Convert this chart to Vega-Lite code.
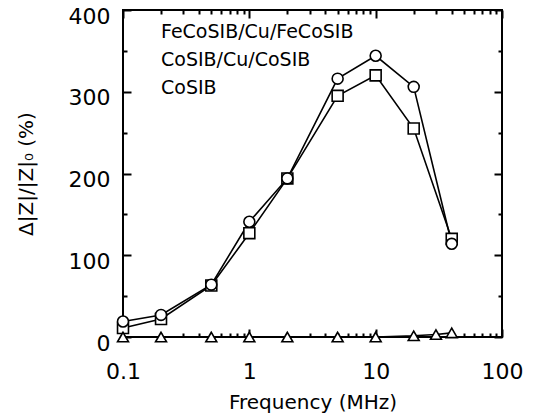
{
  "$schema": "https://vega.github.io/schema/vega-lite/v6.json",
  "width": 379,
  "height": 327,
  "autosize": "none",
  "padding": {"left": 123, "top": 10, "right": 37, "bottom": 81},
  "background": "white",
  "config": {
    "view": {"stroke": "black", "strokeWidth": 2},
    "font": "DejaVu Sans",
    "axis": {
      "grid": false,
      "domain": false,
      "ticks": true,
      "labelFlush": false,
      "labelOverlap": false,
      "tickColor": "#000000",
      "tickWidth": 2,
      "tickOpacity": 1,
      "labelColor": "black",
      "labelFont": "DejaVu Sans",
      "labelFontSize": 22,
      "titleFont": "DejaVu Sans",
      "titleFontSize": 20,
      "titleFontWeight": "normal",
      "titleColor": "black"
    }
  },
  "data": {
    "values": [
      {"series": "FeCoSIB/Cu/FeCoSIB", "f": 0.1, "z": 11},
      {"series": "FeCoSIB/Cu/FeCoSIB", "f": 0.2, "z": 22},
      {"series": "FeCoSIB/Cu/FeCoSIB", "f": 0.5, "z": 63},
      {"series": "FeCoSIB/Cu/FeCoSIB", "f": 1, "z": 127},
      {"series": "FeCoSIB/Cu/FeCoSIB", "f": 2, "z": 194},
      {"series": "FeCoSIB/Cu/FeCoSIB", "f": 5, "z": 295},
      {"series": "FeCoSIB/Cu/FeCoSIB", "f": 10, "z": 320},
      {"series": "FeCoSIB/Cu/FeCoSIB", "f": 20, "z": 255},
      {"series": "FeCoSIB/Cu/FeCoSIB", "f": 40, "z": 120},
      {"series": "CoSIB/Cu/CoSIB", "f": 0.1, "z": 19},
      {"series": "CoSIB/Cu/CoSIB", "f": 0.2, "z": 27},
      {"series": "CoSIB/Cu/CoSIB", "f": 0.5, "z": 64},
      {"series": "CoSIB/Cu/CoSIB", "f": 1, "z": 141},
      {"series": "CoSIB/Cu/CoSIB", "f": 2, "z": 194},
      {"series": "CoSIB/Cu/CoSIB", "f": 5, "z": 316},
      {"series": "CoSIB/Cu/CoSIB", "f": 10, "z": 344},
      {"series": "CoSIB/Cu/CoSIB", "f": 20, "z": 306},
      {"series": "CoSIB/Cu/CoSIB", "f": 40, "z": 114},
      {"series": "CoSIB", "f": 0.1, "z": 0},
      {"series": "CoSIB", "f": 0.2, "z": 0},
      {"series": "CoSIB", "f": 0.5, "z": 0},
      {"series": "CoSIB", "f": 1, "z": 0},
      {"series": "CoSIB", "f": 2, "z": 0},
      {"series": "CoSIB", "f": 5, "z": 0},
      {"series": "CoSIB", "f": 10, "z": 0},
      {"series": "CoSIB", "f": 20, "z": 1.5},
      {"series": "CoSIB", "f": 30, "z": 3},
      {"series": "CoSIB", "f": 40, "z": 5}
    ]
  },
  "layer": [
    {
      "mark": {"type": "line", "color": "black", "strokeWidth": 1.6},
      "encoding": {
        "x": {
          "field": "f", "type": "quantitative",
          "scale": {"type": "log", "domain": [0.1, 100], "nice": false},
          "axis": {"orient": "bottom", "values": [0.1, 1, 10, 100], "offset": -8, "tickSize": 8, "labelPadding": 24,
                   "labelExpr": "datum.value < 0.5 ? '0.1' : datum.value < 5 ? '1' : datum.value < 50 ? '10' : '100'",
                   "title": "Frequency (MHz)", "titlePadding": 10}
        },
        "y": {
          "field": "z", "type": "quantitative",
          "scale": {"domain": [0, 400], "nice": false},
          "axis": {"orient": "left", "values": [0, 100, 200, 300, 400], "offset": -8, "tickSize": 8, "labelPadding": 13, "labelOffset": 6,
                   "title": "Δ|Z|/|Z|₀ (%)", "titlePadding": 32}
        },
        "detail": {"field": "series"}
      }
    },
    {
      "mark": {"type": "point", "filled": true, "color": "white", "stroke": "black", "strokeWidth": 1.6, "size": 120, "opacity": 1},
      "encoding": {
        "x": {"field": "f", "type": "quantitative", "axis": null},
        "y": {"field": "z", "type": "quantitative", "axis": null},
        "shape": {
          "field": "series", "type": "nominal",
          "scale": {"domain": ["FeCoSIB/Cu/FeCoSIB", "CoSIB/Cu/CoSIB", "CoSIB"], "range": ["square", "circle", "triangle-up"]},
          "legend": {
            "title": null, "orient": "none", "legendX": 12, "legendY": 12,
            "labelFontSize": 19, "labelColor": "black", "labelFont": "DejaVu Sans", "labelLimit": 400,
            "symbolSize": 100, "symbolFillColor": "white", "symbolStrokeColor": "#000000", "symbolStrokeWidth": 2, "symbolOpacity": 1,
            "rowPadding": 8, "labelOffset": 7
          }
        }
      }
    },
    {
      "mark": {"type": "point", "size": 0, "strokeWidth": 0},
      "encoding": {
        "x": {"field": "f", "type": "quantitative",
              "axis": {"orient": "top", "values": [0.1, 1, 10, 100], "offset": -8, "tickSize": 8, "labels": false, "title": null}},
        "y": {"field": "z", "type": "quantitative",
              "axis": {"orient": "right", "values": [0, 100, 200, 300, 400], "offset": -8, "tickSize": 8, "labels": false, "title": null}}
      }
    },
    {
      "mark": {"type": "point", "size": 0, "strokeWidth": 0},
      "encoding": {
        "x": {"field": "f", "type": "quantitative",
              "axis": {"orient": "bottom", "values": [0.2, 0.3, 0.4, 0.5, 0.6, 0.7, 0.8, 0.9, 2, 3, 4, 5, 6, 7, 8, 9, 20, 30, 40, 50, 60, 70, 80, 90], "offset": -4, "tickSize": 4, "labels": false, "title": null}},
        "y": {"field": "z", "type": "quantitative",
              "axis": {"orient": "left", "values": [50, 150, 250, 350], "offset": -4, "tickSize": 4, "labels": false, "title": null}}
      }
    },
    {
      "mark": {"type": "point", "size": 0, "strokeWidth": 0},
      "encoding": {
        "x": {"field": "f", "type": "quantitative",
              "axis": {"orient": "top", "values": [0.2, 0.3, 0.4, 0.5, 0.6, 0.7, 0.8, 0.9, 2, 3, 4, 5, 6, 7, 8, 9, 20, 30, 40, 50, 60, 70, 80, 90], "offset": -4, "tickSize": 4, "labels": false, "title": null}},
        "y": {"field": "z", "type": "quantitative",
              "axis": {"orient": "right", "values": [50, 150, 250, 350], "offset": -4, "tickSize": 4, "labels": false, "title": null}}
      }
    }
  ],
  "resolve": {"axis": {"x": "independent", "y": "independent"}}
}
